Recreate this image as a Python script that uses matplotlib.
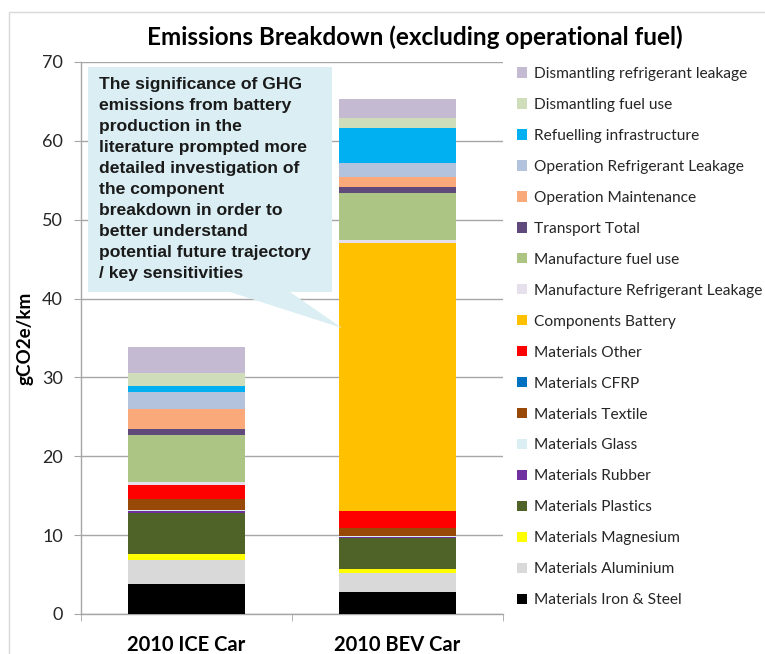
import numpy as np
import matplotlib.pyplot as plt
from matplotlib.patches import Polygon, Rectangle

# --- Data (gCO2e/km), bottom to top of each stack ---
cars = ["2010 ICE Car", "2010 BEV Car"]
components = [
    "Materials Iron & Steel", "Materials Aluminium", "Materials Magnesium",
    "Materials Plastics", "Materials Rubber", "Materials Glass",
    "Materials Textile", "Materials CFRP", "Materials Other",
    "Components Battery", "Manufacture Refrigerant Leakage", "Manufacture fuel use",
    "Transport Total", "Operation Maintenance", "Operation Refrigerant Leakage",
    "Refuelling infrastructure", "Dismantling fuel use", "Dismantling refrigerant leakage",
]
ice_values = [3.8, 3.1, 0.7, 5.2, 0.25, 0.1, 1.4, 0.0, 1.8,
              0.0, 0.33, 6.0, 0.76, 2.5, 2.2, 0.8, 1.6, 3.3]
bev_values = [2.75, 2.4, 0.5, 3.95, 0.17, 0.1, 1.0, 0.0, 2.2,
              34.0, 0.33, 6.0, 0.76, 1.27, 1.7, 4.55, 1.2, 2.4]
colors = [
    "#000000", "#D9D9D9", "#FFFF00", "#4F6228", "#7030A0", "#DAEEF3",
    "#984807", "#0070C0", "#FF0000", "#FFC000", "#E6E0EC", "#ADC584",
    "#604A7B", "#F9A97A", "#B3C3DE", "#00B0F0", "#D0DDBA", "#C4BBD3",
]
note = ("The significance of GHG\nemissions from battery\nproduction in the\n"
        "literature prompted more\ndetailed investigation of\nthe component\n"
        "breakdown in order to\nbetter understand\npotential future trajectory\n"
        "/ key sensitivities")

W, H = 765, 654
fig = plt.figure(figsize=(W / 100, H / 100), dpi=100)
ax = fig.add_axes([81 / W, 1 - 614 / H, 422 / W, 552 / H])

grey = "#A6A6A6"
x = np.arange(len(cars))
values = np.array([ice_values, bev_values])
bottom = np.zeros(len(cars))
handles = []
for i, (name, col) in enumerate(zip(components, colors)):
    b = ax.bar(x, values[:, i], 0.555, bottom=bottom, color=col, label=name,
               zorder=3, edgecolor="none")
    handles.append(b)
    bottom += values[:, i]

ax.set_xlim(-0.5, 1.5)
ax.set_ylim(0, 70)
ax.set_yticks(range(0, 71, 10))
ax.yaxis.grid(True, color=grey, linewidth=1.0, zorder=0)
ax.set_axisbelow(True)
for s in ["top", "right"]:
    ax.spines[s].set_visible(False)
for s in ["left", "bottom"]:
    ax.spines[s].set_color(grey)
    ax.spines[s].set_linewidth(1.0)

ax.set_xticks(x)
ax.set_xticklabels(cars, fontfamily="Lato", fontweight="bold", fontsize=14.5,
                   color="#000000")
ax.set_xticks([-0.5, 0.5, 1.5], minor=True)
ax.tick_params(axis="x", which="major", length=0, pad=15)
ax.tick_params(axis="x", which="minor", length=5, color=grey, direction="out")
ax.tick_params(axis="y", length=5, color=grey, pad=8, labelsize=13,
               labelcolor="#262626")
for t in ax.get_yticklabels():
    t.set_fontfamily("Lato")

ax.set_ylabel("gCO2e/km", fontfamily="Lato", fontweight="bold", fontsize=13.5,
              labelpad=6)

fig.text(415 / W, 1 - 37 / H, "Emissions Breakdown (excluding operational fuel)",
         ha="center", va="center", fontfamily="Lato", fontweight="bold",
         fontsize=17.5, color="#000000")

# legend, same order as the stack (top entry first)
leg = ax.legend(handles[::-1], components[::-1], loc="upper left",
                bbox_to_anchor=(517 / W, 1 - 67 / H), bbox_transform=fig.transFigure,
                frameon=False, prop={"family": "Lato", "size": 11.2},
                handlelength=0.65, handleheight=0.65, handletextpad=0.45,
                labelspacing=1.09, borderpad=0, borderaxespad=0)
for t in leg.get_texts():
    t.set_color("#262626")

# callout box
pts = [(88, 67), (332, 67), (332, 292), (290, 292), (342, 328), (230, 292), (88, 292)]
callout = Polygon([(px / W, 1 - py / H) for px, py in pts], closed=True,
                  transform=fig.transFigure, facecolor="#DAEEF3", edgecolor="none",
                  zorder=10)
fig.add_artist(callout)
fig.text(99 / W, 1 - 77 / H, note, ha="left", va="top", fontfamily="Liberation Sans",
         fontweight="bold", fontsize=12.6, linespacing=1.5, color="#1a1a1a", zorder=11)

# outer frame of the slide
fig.add_artist(Rectangle((9 / W, -0.1), 1.2, 1.1 - 12 / H, transform=fig.transFigure,
                         facecolor="none", edgecolor="#D9D9D9", linewidth=1.0))

fig.savefig("out.png", dpi=100)
